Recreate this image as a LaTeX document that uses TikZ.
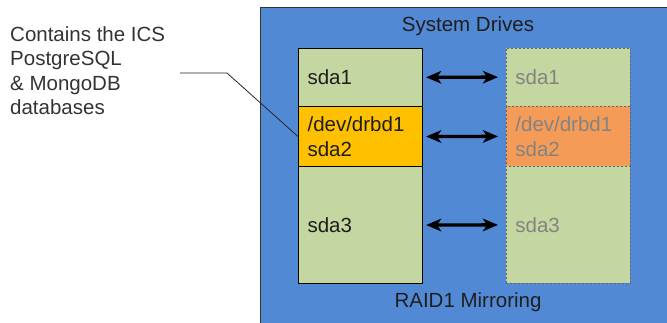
\documentclass[tikz,border=0pt]{standalone}
\usepackage{fontspec}
\setmainfont{Liberation Sans}
\usetikzlibrary{arrows.meta}
\definecolor{raidblue}{HTML}{5289D5}
\definecolor{partgreen}{HTML}{C5D7A0}
\definecolor{partgold}{HTML}{FFC000}
\definecolor{partorange}{HTML}{F49B58}
\definecolor{inktext}{HTML}{1E1E1E}
\definecolor{dimtext}{HTML}{838383}
\definecolor{notetext}{HTML}{333333}
\begin{document}
\begin{tikzpicture}[x=1pt,y=-1pt,
  every node/.style={font=\fontsize{20.5}{24.6}\selectfont},
  part/.style={draw=black, line width=1.1pt, anchor=north west,
    minimum height=#1, inner xsep=9pt, inner ysep=0pt, text width=106pt,
    align=left, text=inktext},
  mirror/.style={draw=black!60, dashed, dash pattern=on 2pt off 2pt,
    line width=0.8pt, anchor=north west, minimum height=#1,
    inner xsep=9pt, inner ysep=0pt, text width=106pt, align=left,
    text=dimtext},
  sync/.style={{Stealth[length=15pt,width=12.5pt,inset=4pt]}-{Stealth[length=15pt,width=12.5pt,inset=4pt]},
    line width=3.4pt, black, shorten <=3pt, shorten >=8pt},
]
\useasboundingbox (0,0) rectangle (667,322);
% outer enclosure for the system drives
\node[draw=black!80, line width=1pt, fill=raidblue, anchor=north west,
  minimum width=420pt, minimum height=330pt, inner sep=0pt] (raid) at (260,7) {};
\node[text=inktext] (title) at (468,26) {System Drives};
\node[text=inktext] (foot) at (468,302) {RAID1 Mirroring};

% primary drive partitions
\node[part=58.5pt, fill=partgreen] (L1) at (298,47.5) {sda1};
\node[part=60pt, fill=partgold] (L2) at (298,106) {/dev/drbd1\\sda2};
\node[part=117pt, fill=partgreen] (L3) at (298,166) {sda3};

% mirrored drive partitions
\node[mirror=58.5pt, fill=partgreen] (R1) at (506,47.5) {sda1};
\node[mirror=60pt, fill=partorange] (R2) at (506,106) {/dev/drbd1\\sda2};
\node[mirror=117pt, fill=partgreen] (R3) at (506,166) {sda3};

% replication arrows
\draw[sync] (L1.east) -- (R1.west);
\draw[sync] (L2.east) -- (R2.west);
\draw[sync] (L3.east) -- (R3.west);

% annotation
\node[anchor=north west, align=left, text=notetext, inner sep=0pt] (note) at (10,26)
  {Contains the ICS\\PostgreSQL\\\& MongoDB\\databases};
\coordinate (c0) at (180,73);
\coordinate (c1) at (227,73);
\draw[black!85, line width=0.8pt] (c0) -- (c1) -- (L2.west);
\end{tikzpicture}
\end{document}
